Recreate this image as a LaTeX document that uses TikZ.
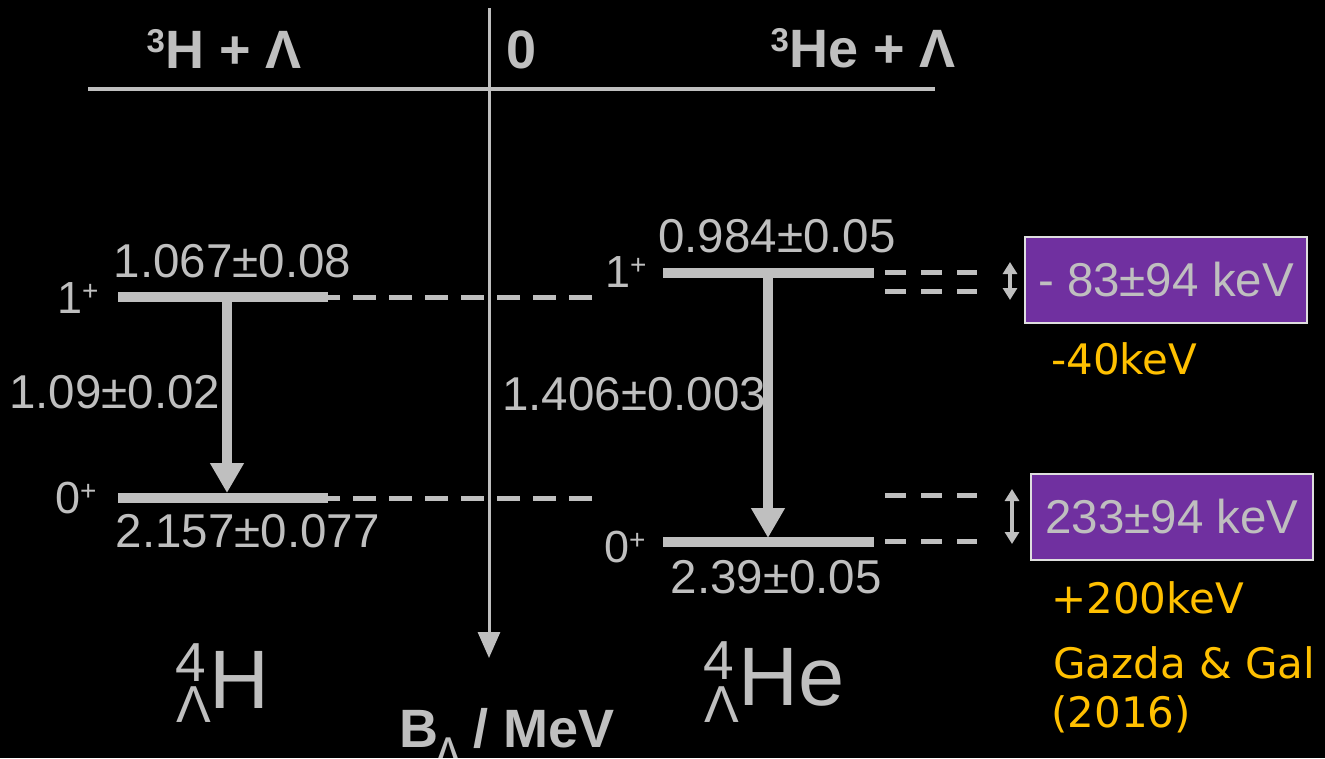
\documentclass[tikz,border=0pt]{standalone}
\usepackage{fontspec}
\setmainfont{Liberation Sans}
\newfontfamily\verd{DejaVu Sans}
\usetikzlibrary{arrows.meta}
\definecolor{fg}{RGB}{191,191,191}
\definecolor{ppl}{RGB}{112,48,160}
\definecolor{ylw}{RGB}{255,192,0}
\newcommand{\spplus}{\raisebox{13pt}{\fontsize{28}{28}\selectfont +}}
\newcommand{\hyplabel}[4]{\fontsize{52}{52}\selectfont\makebox[0pt][l]{\hspace{-1pt}\raisebox{#1}{\fontsize{55}{55}\selectfont 4}}Λ\hspace{#3}\raisebox{#2}{\fontsize{83}{88}\selectfont #4}}
\begin{document}
\begin{tikzpicture}[x=1pt,y=-1pt,
  base/.style={text=fg, inner sep=0pt, anchor=base west},
  txt/.style={base, font=\fontsize{47.5}{50}\selectfont},
  spin/.style={base, font=\fontsize{45}{48}\selectfont},
  head/.style={base, font=\fontsize{54}{58}\selectfont\bfseries},
  note/.style={text=ylw, inner sep=0pt, anchor=base west, font=\verd\fontsize{42}{46}\selectfont},
  level/.style={draw=fg, line width=10pt},
  dashl/.style={draw=fg, line width=5pt, dash pattern=on 23pt off 13pt},
  dashr/.style={draw=fg, line width=5pt, dash pattern=on 21pt off 15pt},
  trans/.style={draw=fg, line width=10pt, -{Triangle[width=32pt,length=30pt]}},
  axisl/.style={draw=fg, line width=3pt},
  dbl/.style={draw=fg, line width=4pt, {Triangle[width=14pt,length=12pt]}-{Triangle[width=14pt,length=12pt]}},
  box/.style={fill=ppl, draw=fg!50!white, line width=2pt, minimum width=282pt, minimum height=86pt, inner sep=0pt, text=fg, font=\fontsize{47.5}{50}\selectfont}
]
\fill[black] (0,0) rectangle (1325,758);
\useasboundingbox (0,0) rectangle (1325,758);

% axes
\coordinate (hl) at (88,89);
\coordinate (hr) at (935,89);
\coordinate (vt) at (489,8);
\coordinate (vb) at (489,658);
\draw[axisl, line width=4pt] (hl) -- (hr);
\draw[axisl, -{Triangle[width=22pt,length=26pt]}] (vt) -- (vb);

% top labels
\node[head] (t1) at (146.5,68) {\raisebox{16pt}{\fontsize{33}{33}\selectfont 3}H + Λ};
\node[head] (t0) at (506,68) {0};
\node[head] (t2) at (770.5,67) {\raisebox{16pt}{\fontsize{33}{33}\selectfont 3}He + Λ};

% left levels
\coordinate (L1w) at (118,297);
\coordinate (L1e) at (328,297);
\coordinate (L0w) at (118,498);
\coordinate (L0e) at (328,498);
\coordinate (L1d) at (592,297);
\coordinate (L0d) at (592,498);
\draw[level] (L1w) -- (L1e);
\draw[level] (L0w) -- (L0e);
\draw[dashl] (L1d) -- (L1e);
\draw[dashl] (L0d) -- (L0e);
\coordinate (La) at (227,302);
\coordinate (Lb) at (227,493);
\draw[trans] (La) -- (Lb);

\node[spin] (s1l) at (57,313) {1\spplus};
\node[spin] (s0l) at (55,513) {0\spplus};
\node[txt] (e1l) at (113.5,277) {1.067±0.08};
\node[txt] (e0l) at (115.5,547) {2.157±0.077};
\node[txt] (tl) at (9,408) {1.09±0.02};

% right levels
\coordinate (R1w) at (663,273);
\coordinate (R1e) at (874,273);
\coordinate (R0w) at (663,542);
\coordinate (R0e) at (874,542);
\draw[level] (R1w) -- (R1e);
\draw[level] (R0w) -- (R0e);
\coordinate (Ra) at (768,278);
\coordinate (Rb) at (768,538);
\draw[trans] (Ra) -- (Rb);

\node[spin] (s1r) at (605,287) {1\spplus};
\node[spin] (s0r) at (604,562) {0\spplus};
\node[txt] (e1r) at (658,252) {0.984±0.05};
\node[txt] (e0r) at (670.5,593) {2.39±0.05};
\node[txt] (tr) at (502,410) {1.406±0.003};

% right-hand dashes
\coordinate (d1a) at (885,272);
\coordinate (d1b) at (977,272);
\coordinate (d2a) at (885,291);
\coordinate (d2b) at (977,291);
\coordinate (d3a) at (885,495);
\coordinate (d3b) at (977,495);
\coordinate (d4a) at (885,541);
\coordinate (d4b) at (977,541);
\draw[dashr] (d1a) -- (d1b);
\draw[dashr] (d2a) -- (d2b);
\draw[dashr] (d3a) -- (d3b);
\draw[dashr] (d4a) -- (d4b);

\coordinate (a1t) at (1010,262);
\coordinate (a1b) at (1010,300);
\coordinate (a2t) at (1012,489);
\coordinate (a2b) at (1012,544);
\draw[dbl] (a1t) -- (a1b);
\draw[dbl] (a2t) -- (a2b);

% boxes
\node[box] (b1) at (1166,280) {- 83±94 keV};
\node[box] (b2) at (1172,516.5) {233±94 keV};

% yellow notes
\node[note] (n1) at (1051,374) {-40keV};
\node[note] (n2) at (1051,613) {+200keV};
\node[note] (n3) at (1053,678) {Gazda \& Gal};
\node[note] (n4) at (1051,727) {(2016)};

% nuclide labels
\node[base] (hyH) at (176,722) {\hyplabel{41pt}{14pt}{-1.7pt}{H}};
\node[base] (hyHe) at (704,722) {\hyplabel{43pt}{17pt}{0pt}{He}};

% axis label
\node[head] (bl) at (399,747) {B\raisebox{-11.5pt}{\fontsize{30}{30}\selectfont Λ} / MeV};
\end{tikzpicture}
\end{document}
